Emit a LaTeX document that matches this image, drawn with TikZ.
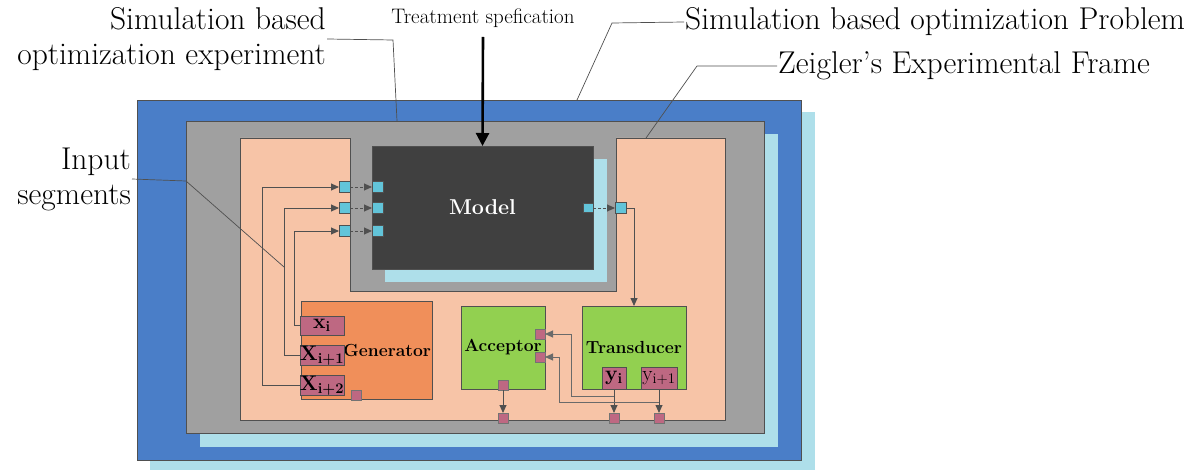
\documentclass[tikz,border=0pt]{standalone}
\usepackage{fontspec}
\usetikzlibrary{arrows.meta}

\definecolor{blueF}{RGB}{74,126,200}
\definecolor{skyF}{RGB}{174,223,234}
\definecolor{grayF}{RGB}{160,160,160}
\definecolor{peachF}{RGB}{247,196,167}
\definecolor{modelF}{RGB}{64,64,64}
\definecolor{genF}{RGB}{240,143,90}
\definecolor{greenF}{RGB}{146,208,80}
\definecolor{mauveF}{RGB}{190,104,130}
\definecolor{pinF}{RGB}{98,196,217}
\definecolor{edgeC}{RGB}{80,80,80}

\begin{document}
\begin{tikzpicture}[
  x=1pt, y=-1pt,
  frame/.style={draw=edgeC, line width=0.8pt},
  blk/.style={draw=edgeC, line width=0.8pt, rectangle, inner sep=0pt, outer sep=0pt,
    font=\fontsize{17.5}{20}\selectfont\bfseries},
  sub/.style={draw=edgeC, line width=0.8pt, fill=mauveF, rectangle, inner sep=0pt, outer sep=0pt,
    font=\fontsize{21}{21}\selectfont},
  pin/.style={draw=edgeC, line width=0.6pt, fill=pinF, rectangle, minimum size=11pt, inner sep=0pt, outer sep=0pt},
  mport/.style={draw=edgeC!80, line width=0.6pt, fill=mauveF, rectangle, minimum size=10pt, inner sep=0pt, outer sep=0pt},
  sig/.style={draw=edgeC, line width=0.9pt, -{Triangle[length=8pt,width=7pt]}},
  dsig/.style={sig, dash pattern=on 3pt off 2pt},
  feed/.style={black, line width=2.6pt, -{Triangle[length=13pt,width=13pt]}},
  lead/.style={draw=edgeC, line width=0.7pt},
  lab/.style={font=\fontsize{31.5}{35}\selectfont, inner sep=1pt},
]
\useasboundingbox (0,0) rectangle (1198,470);

% nested frames
\fill[skyF] (150,112) rectangle (815,470);
\draw[frame, fill=blueF] (137,100) rectangle (801,460);
\fill[skyF] (200,134) rectangle (778,447);
\draw[frame, fill=grayF] (186,121) rectangle (764,433);
\draw[frame, fill=peachF] (240,138) -- (350,138) -- (350,291) -- (616,291) -- (616,138)
  -- (725,138) -- (725,420) -- (240,420) -- cycle;

% model
\fill[skyF] (385,159) rectangle (607,282);
\node[blk, fill=modelF, text=white, minimum width=221pt, minimum height=123pt,
  font=\fontsize{21.5}{24}\selectfont\bfseries] (model) at (482.5,207.5) {Model};

% experimental frame blocks
\node[blk, fill=genF, minimum height=98pt, text width=129pt, align=right, inner xsep=1pt] (gen) at (366.5,350) {Generator};
\node[blk, fill=greenF, minimum width=84pt, minimum height=83pt] (acc) at (503,347.5) {Acceptor};
\node[blk, fill=greenF, minimum width=104pt, minimum height=83pt] (trans) at (634,347.5) {Transducer};

\node[sub, minimum width=44pt, minimum height=19pt] (xa) at (322,325.5) {\textbf{x}\textsubscript{\textbf{i}}};
\node[sub, minimum width=44pt, minimum height=18pt] (xb) at (322,355.5) {\textbf{X}\textsubscript{\textbf{i+1}}};
\node[sub, minimum width=44pt, minimum height=18pt] (xc) at (322,385.5) {\textbf{X}\textsubscript{\textbf{i+2}}};
\node[sub, minimum width=24pt, minimum height=22pt] (ya) at (614,378) {\textbf{y}\textsubscript{\textbf{i}}};
\node[sub, minimum width=36pt, minimum height=22pt] (yb) at (659,378) {y\textsubscript{i+1}};

% ports
\node[pin] (pi1) at (344.5,187) {};
\node[pin] (pi2) at (344.5,208) {};
\node[pin] (pi3) at (344.5,231) {};
\node[pin] (mi1) at (377.5,187) {};
\node[pin] (mi2) at (377.5,208) {};
\node[pin] (mi3) at (377.5,231) {};
\node[pin, minimum size=9.5pt] (mo) at (588.5,208) {};
\node[pin] (po) at (620.5,208) {};
\node[mport] (ai1) at (540,334) {};
\node[mport] (ai2) at (540,357) {};
\node[mport] (ao) at (503,385) {};
\node[mport] (go) at (356,395) {};
\node[mport] (q1) at (503,418) {};
\node[mport] (q2) at (614,418) {};
\node[mport] (q3) at (659,418) {};

% signals
\draw[sig] (xa.west) -- ++(-6,0) |- (pi3.west);
\draw[sig] (xb.west) -- ++(-16,0) |- (pi2.west);
\draw[sig] (xc.west) -- ++(-38,0) |- (pi1.west);
\draw[dsig] (pi1.east) -- (mi1.west);
\draw[dsig] (pi2.east) -- (mi2.west);
\draw[dsig] (pi3.east) -- (mi3.west);
\draw[dsig] (mo.east) -- (po.west);
\draw[sig] (po.east) -| (trans.north);
\draw[sig] (ao.south) -- (q1.north);
\draw[sig] (ya.south) -- (q2.north);
\draw[sig] (yb.south) -- (q3.north);
\draw[sig, draw=edgeC!85] (ya.south) ++(0,7) -- ++(-43,0) |- (ai1.east);
\draw[sig, draw=edgeC!85] (yb.south) ++(0,13) -- ++(-100,0) |- (ai2.east);

% labels and leaders
\node[font=\fontsize{21}{24}\selectfont, inner sep=1pt] (ltreat) at (483,18) {Treatment spefication};
\coordinate (ts) at (483,37);
\draw[feed] (ts) -- (model.north);

\node[lab, align=right, anchor=east] (lexp) at (327,39) {Simulation based\\optimization experiment};
\coordinate (kexp) at (393,40);
\coordinate (eexp) at (397,121);
\draw[lead] (lexp.east) -- (kexp) -- (eexp);

\node[lab, align=right, anchor=east] (linp) at (132,179) {Input\\segments};
\coordinate (kinp) at (186,181);
\coordinate (einp) at (284,267);
\draw[lead] (linp.east) -- (kinp) -- (einp);

\node[lab, anchor=west] (lprob) at (684,22) {Simulation based optimization Problem};
\coordinate (kprob) at (612,23);
\coordinate (eprob) at (577,100);
\draw[lead] (lprob.west) -- (kprob) -- (eprob);

\node[lab, anchor=west] (lzef) at (777,66) {Zeigler's Experimental Frame};
\coordinate (kzef) at (697,66);
\coordinate (ezef) at (646,138);
\draw[lead] (lzef.west) -- (kzef) -- (ezef);
\end{tikzpicture}
\end{document}
